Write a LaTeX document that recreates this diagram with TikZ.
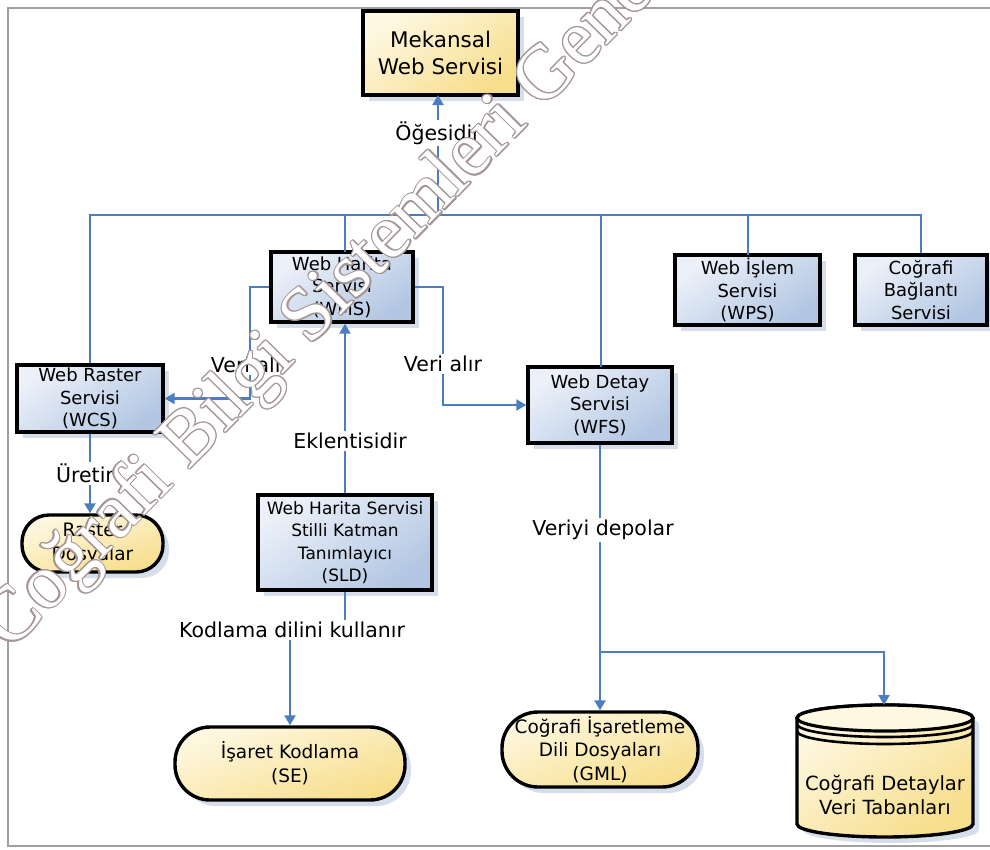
\documentclass[tikz,border=0pt]{standalone}
\usepackage{fontspec}
\setmainfont{DejaVu Sans}
\newfontfamily\wmfont{Liberation Serif}
\usetikzlibrary{arrows.meta,shapes.misc,shadows}
\definecolor{lineblue}{RGB}{74,126,192}
\definecolor{bluelt}{RGB}{236,241,249}
\definecolor{bluedk}{RGB}{178,198,226}
\definecolor{yellt}{RGB}{254,248,226}
\definecolor{yeldk}{RGB}{247,222,140}
\definecolor{shadowc}{RGB}{205,214,230}
\definecolor{framec}{RGB}{160,160,160}
\definecolor{wmc}{RGB}{165,150,150}
\tikzset{
  boxbase/.style={draw=black, line width=3.4pt, align=center, inner sep=0pt,
    drop shadow={shadow xshift=6pt, shadow yshift=-6pt, fill=shadowc, opacity=0.8}},
  bluebox/.style={boxbase, rectangle, top color=bluelt, bottom color=bluedk, shading angle=35,
    font=\fontsize{18}{22.5}\selectfont},
  yelbox/.style={boxbase, rectangle, top color=yellt, bottom color=yeldk, shading angle=35,
    font=\fontsize{21.5}{27}\selectfont},
  pill/.style={boxbase, rectangle, rounded corners=#1, top color=yellt, bottom color=yeldk, shading angle=20,
    font=\fontsize{18.5}{23.5}\selectfont},
  conn/.style={draw=lineblue, line width=2.2pt},
  arr/.style={conn, -{Triangle[width=11pt,length=10pt]}},
  lbl/.style={fill=white, inner sep=2pt, font=\fontsize{20.5}{24}\selectfont},
  wm/.style={font=\wmfont\fontsize{77}{77}\selectfont, anchor=base west, rotate=45.5, inner sep=0pt}
}
\begin{document}
\begin{tikzpicture}[x=1pt,y=-1pt]
\useasboundingbox (0,0) rectangle (990,849);
\fill[white] (0,0) rectangle (990,849);
\draw[framec, line width=1.5pt] (1000,8) -- (8,8) -- (8,846) -- (1000,846);

% nodes
\node[yelbox, minimum width=155pt, minimum height=84pt] (mek) at (440.5,53) {Mekansal\\Web Servisi};
\node[bluebox, minimum width=142pt, minimum height=70pt] (wms) at (342,287) {Web Harita\\Servisi\\(WMS)};
\node[bluebox, minimum width=145pt, minimum height=70pt] (wps) at (747.5,290) {Web İşlem\\Servisi\\(WPS)};
\node[bluebox, minimum width=132pt, minimum height=70pt] (cbs) at (921,290) {Coğrafi\\Bağlantı\\Servisi};
\node[bluebox, minimum width=146pt, minimum height=67pt] (wcs) at (90,398.5) {Web Raster\\Servisi\\(WCS)};
\node[bluebox, minimum width=144pt, minimum height=76pt] (wfs) at (600,405) {Web Detay\\Servisi\\(WFS)};
\node[bluebox, font=\fontsize{17}{22.5}\selectfont, minimum width=174pt, minimum height=95pt] (sld) at (345,542.5) {Web Harita Servisi\\Stilli Katman\\Tanımlayıcı\\(SLD)};
\node[pill=27pt, minimum width=141pt, minimum height=57pt] (ras) at (92.5,543.5) {Raster\\Dosyalar};
\node[pill=35pt, minimum width=230pt, minimum height=73pt] (se) at (290,763.5) {İşaret Kodlama\\(SE)};
\node[pill=36pt, minimum width=196pt, minimum height=75pt] (gml) at (600,749.5) {Coğrafi İşaretleme\\Dili Dosyaları\\(GML)};

% database cylinder
\fill[shadowc, opacity=0.8] (803,724) -- (803,830) arc[start angle=180, end angle=0, x radius=88, y radius=13] -- (979,724) arc[start angle=0, end angle=-180, x radius=88, y radius=13] -- cycle;
\draw[line width=3.4pt, top color=yellt, bottom color=yeldk, shading angle=35] (797,718) -- (797,824) arc[start angle=180, end angle=0, x radius=88, y radius=13] -- (973,718) arc[start angle=0, end angle=-180, x radius=88, y radius=13] -- cycle;
\draw[line width=3.2pt, fill=yellt] (885,718) ellipse[x radius=88, y radius=13];
\draw[line width=2.6pt] (797,724) arc[start angle=180, end angle=0, x radius=88, y radius=13];
\draw[line width=2.6pt] (797,731) arc[start angle=180, end angle=0, x radius=88, y radius=13];
\node[font=\fontsize{19.5}{24}\selectfont, align=center] (db) at (885,795) {Coğrafi Detaylar\\Veri Tabanları};
\coordinate (dbtop) at (884,705);

% bus
\coordinate (busL) at (90,215);
\coordinate (busR) at (921,215);
\draw[conn] (wcs.north) -- (busL) -- (busR) -- (cbs.north);
\draw[conn] (345,215) -- (345,252);
\draw[conn] (601,215) -- (601,367);
\draw[conn] (748,215) -- (748,255);
\draw[arr] (438,215) -- (438,95);
\node[lbl] (l1) at (438,133) {Öğesidir};

% WMS -> WCS / WFS
\draw[arr] (wms.west) -- (250,287) |- (wcs.east);
\node[lbl] (l2) at (250,365) {Veri alır};
\draw[arr] (wms.east) -- (443,287) |- (wfs.west);
\node[lbl] (l3) at (443,364) {Veri alır};

% SLD -> WMS
\draw[arr] (sld.north) -- (sld.north |- wms.south);
\node[lbl] (l4) at (350,441) {Eklentisidir};

% WCS -> Raster
\draw[arr] (wcs.south) -- (wcs.south |- ras.north);
\node[lbl] (l5) at (85,473) {Üretir};

% SLD -> SE
\draw[arr] (sld.south) -- (345,630) -- (290,630) -- (se.north);
\node[lbl] (l6) at (292,630) {Kodlama dilini kullanır};

% WFS -> GML, DB
\coordinate (br) at (601,652);
\draw[arr] (wfs.south) -- (gml.north);
\draw[arr] (br) -- (884,652) -- (dbtop);
\node[lbl] (l7) at (603,530) {Veriyi depolar};

% watermark
\foreach \a in {0,30,...,330}
  \node[wm, text=wmc, shift={(\a:1.2pt)}] at (10,652) {Coğrafi Bilgi Sistemleri Genel};
\node[wm, text=white] (wmark) at (10,652) {Coğrafi Bilgi Sistemleri Genel};
\end{tikzpicture}
\end{document}
